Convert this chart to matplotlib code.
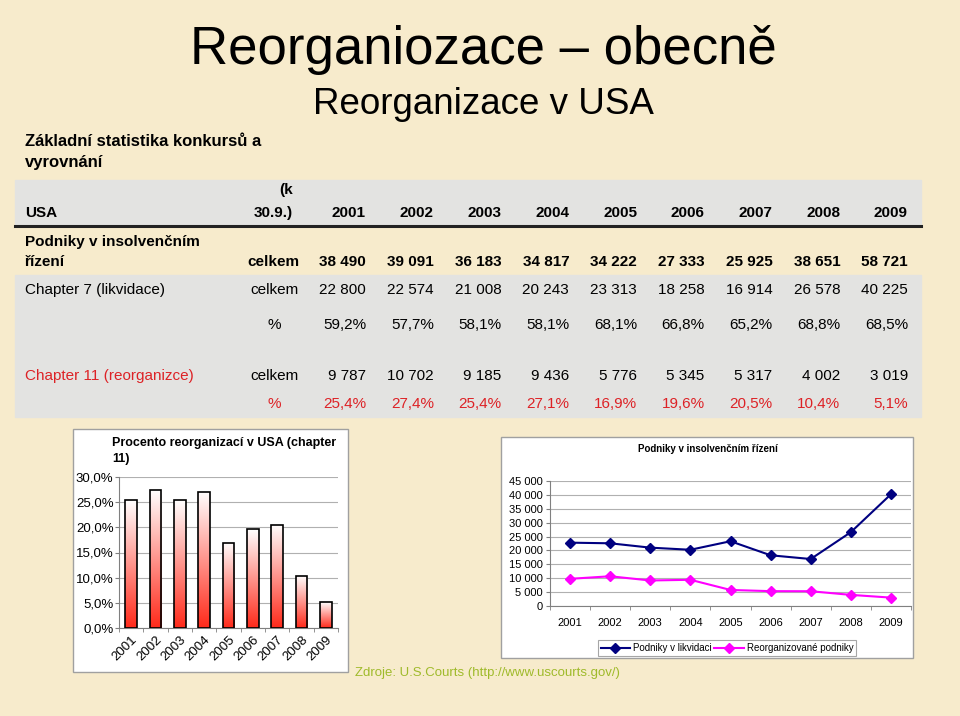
import numpy as np
import matplotlib.pyplot as plt
from matplotlib.patches import Rectangle
from matplotlib.colors import LinearSegmentedColormap
from matplotlib.ticker import FuncFormatter

plt.rcParams['font.family'] = ['Liberation Sans', 'DejaVu Sans']

# data
years = ['2001', '2002', '2003', '2004', '2005', '2006', '2007', '2008', '2009']
total = ['38 490', '39 091', '36 183', '34 817', '34 222', '27 333', '25 925', '38 651', '58 721']
ch7 = [22800, 22574, 21008, 20243, 23313, 18258, 16914, 26578, 40225]
ch7_pct = ['59,2%', '57,7%', '58,1%', '58,1%', '68,1%', '66,8%', '65,2%', '68,8%', '68,5%']
ch11 = [9787, 10702, 9185, 9436, 5776, 5345, 5317, 4002, 3019]
ch11_pct = [25.4, 27.4, 25.4, 27.1, 16.9, 19.6, 20.5, 10.4, 5.1]

W, H = 960, 716
BG = '#f7ebcc'
RED = '#dd2226'


def fx(x):
    return x / W


def fy(y):
    return 1 - y / H


def num(v):
    return f'{v:,}'.replace(',', ' ')


def pct(v):
    return f'{v:.1f}%'.replace('.', ',')


fig = plt.figure(figsize=(W / 100, H / 100), dpi=100, facecolor=BG)

# titles
fig.text(fx(483), fy(50), 'Reorganiozace \u2013 obecně', fontsize=38, ha='center', va='center')
fig.text(fx(483), fy(105), 'Reorganizace v USA', fontsize=26.5, ha='center', va='center')
LX = 25
fig.text(fx(LX), fy(142), 'Základní statistika konkursů a', fontsize=12, fontweight='bold', va='center')
fig.text(fx(LX), fy(163), 'vyrovnání', fontsize=12, fontweight='bold', va='center')

# table background
fig.patches.append(Rectangle((fx(15), fy(226)), fx(921) - fx(15), fy(180) - fy(226),
                             transform=fig.transFigure, color='#e3e3e1', zorder=0))
fig.patches.append(Rectangle((fx(15), fy(417)), fx(921) - fx(15), fy(275) - fy(417),
                             transform=fig.transFigure, color='#e3e3e1', zorder=0))
fig.add_artist(plt.Line2D([fx(15), fx(921)], [fy(226), fy(226)], transform=fig.transFigure,
                          color='#222222', lw=2.2))

col_x = [366 + 67.75 * i for i in range(9)]
fs = 11

fig.text(fx(LX), fy(213), 'USA', fontsize=fs, fontweight='bold', va='center')
fig.text(fx(293), fy(190), '(k', fontsize=fs, fontweight='bold', va='center', ha='right')
fig.text(fx(293), fy(213), '30.9.)', fontsize=fs, fontweight='bold', va='center', ha='right')
for x, yr in zip(col_x, years):
    fig.text(fx(x), fy(213), yr, fontsize=fs, fontweight='bold', va='center', ha='right')

fig.text(fx(LX), fy(242), 'Podniky v insolvenčním', fontsize=fs, fontweight='bold', va='center')
fig.text(fx(LX), fy(262), 'řízení', fontsize=fs, fontweight='bold', va='center')
fig.text(fx(299), fy(262), 'celkem', fontsize=fs, fontweight='bold', va='center', ha='right')
for x, v in zip(col_x, total):
    fig.text(fx(x), fy(262), v, fontsize=fs, fontweight='bold', va='center', ha='right')

fig.text(fx(LX), fy(290), 'Chapter 7 (likvidace)', fontsize=fs, va='center')
fig.text(fx(299), fy(290), 'celkem', fontsize=fs, va='center', ha='right')
fig.text(fx(281), fy(325), '%', fontsize=fs, va='center', ha='right')
for x, v, p in zip(col_x, ch7, ch7_pct):
    fig.text(fx(x), fy(290), num(v), fontsize=fs, va='center', ha='right')
    fig.text(fx(x), fy(325), p, fontsize=fs, va='center', ha='right')

fig.text(fx(LX), fy(376), 'Chapter 11 (reorganizce)', fontsize=fs, va='center', color=RED)
fig.text(fx(299), fy(376), 'celkem', fontsize=fs, va='center', ha='right')
fig.text(fx(281), fy(404), '%', fontsize=fs, va='center', ha='right', color=RED)
for x, v, p in zip(col_x, ch11, ch11_pct):
    fig.text(fx(x), fy(376), num(v), fontsize=fs, va='center', ha='right')
    fig.text(fx(x), fy(404), pct(p), fontsize=fs, va='center', ha='right', color=RED)

# ---- bar chart
fig.patches.append(Rectangle((fx(73), fy(672)), fx(348) - fx(73), fy(429) - fy(672),
                             transform=fig.transFigure, facecolor='white', edgecolor='#a0a0a0',
                             lw=1, zorder=0))
fig.text(fx(112), fy(443), 'Procento reorganizací v USA (chapter', fontsize=9, fontweight='bold', va='center')
fig.text(fx(112), fy(459), '11)', fontsize=9, fontweight='bold', va='center')

ax1 = fig.add_axes([fx(119), fy(628), fx(338) - fx(119), fy(477) - fy(628)])
ax1.set_zorder(2)
ax1.set_facecolor('none')
cmap = LinearSegmentedColormap.from_list('wr', ['#ff2a1a', '#ffffff'])
grad = np.linspace(0, 1, 256).reshape(-1, 1)
xs = np.arange(len(years))
bw = 0.48
for x, v in zip(xs, ch11_pct):
    ax1.imshow(grad, extent=[x - bw / 2, x + bw / 2, 0, v], origin='lower', aspect='auto',
               cmap=cmap, zorder=2)
ax1.bar(xs, ch11_pct, width=bw, fill=False, edgecolor='black', lw=1.2, zorder=3)
ax1.set_xlim(-0.5, len(years) - 0.5)
ax1.set_ylim(0, 30)
ax1.set_yticks(np.arange(0, 31, 5))
ax1.yaxis.set_major_formatter(FuncFormatter(lambda v, p: pct(v)))
ax1.grid(axis='y', color='#b0b0b0', lw=0.8, zorder=0)
ax1.set_axisbelow(True)
ax1.set_xticks(xs)
ax1.set_xticklabels(years, rotation=45, ha='right', va='top', rotation_mode='anchor')
ax1.set_xticks(np.arange(-0.5, len(years), 1), minor=True)
ax1.tick_params(axis='x', which='major', length=0, labelsize=9.5, pad=4)
ax1.tick_params(axis='x', which='minor', length=3, color='#808080')
ax1.tick_params(axis='y', labelsize=9.5, length=3, color='#808080', pad=1)
for s in ['top', 'right']:
    ax1.spines[s].set_visible(False)
for s in ['left', 'bottom']:
    ax1.spines[s].set_color('#808080')

# ---- line chart
fig.patches.append(Rectangle((fx(501), fy(658)), fx(913) - fx(501), fy(437) - fy(658),
                             transform=fig.transFigure, facecolor='white', edgecolor='#a0a0a0',
                             lw=1, zorder=0))
fig.text(fx(708), fy(449), 'Podniky v insolvenčním řízení', fontsize=7, fontweight='bold',
         ha='center', va='center')

ax2 = fig.add_axes([fx(550), fy(606), fx(911) - fx(550), fy(481) - fy(606)])
ax2.set_zorder(2)
ax2.set_facecolor('none')
ax2.plot(xs, ch7, color='#000080', marker='D', markersize=5, lw=1.5, label='Podniky v likvidaci')
ax2.plot(xs, ch11, color='#ff00ff', marker='D', markersize=5, lw=1.5, label='Reorganizované podniky')
ax2.set_xlim(-0.5, len(years) - 0.5)
ax2.set_ylim(0, 45000)
ax2.set_yticks(np.arange(0, 45001, 5000))
ax2.yaxis.set_major_formatter(FuncFormatter(lambda v, p: num(int(v))))
ax2.grid(axis='y', color='#b0b0b0', lw=0.8)
ax2.set_axisbelow(True)
ax2.set_xticks(xs)
ax2.set_xticklabels(years)
ax2.set_xticks(np.arange(-0.5, len(years), 1), minor=True)
ax2.tick_params(axis='x', which='major', length=0, labelsize=8, pad=9)
ax2.tick_params(axis='x', which='minor', length=3, color='#808080')
ax2.tick_params(axis='y', labelsize=8, length=3, color='#808080', pad=2)
for s in ['top', 'right']:
    ax2.spines[s].set_visible(False)
for s in ['left', 'bottom']:
    ax2.spines[s].set_color('#808080')
leg = fig.legend(loc='center', bbox_to_anchor=(fx(727), fy(648)), ncol=2, fontsize=7,
                 frameon=True, fancybox=False, edgecolor='#909090', handlelength=3,
                 columnspacing=0.3, handletextpad=0.3, borderpad=0.3)
leg.get_frame().set_linewidth(0.8)
leg.set_zorder(3)

fig.text(fx(355), fy(673), 'Zdroje: U.S.Courts (http://www.uscourts.gov/)', fontsize=9.5,
         color='#9fba2a', va='center')

fig.savefig('out.png', dpi=100, facecolor=BG)
